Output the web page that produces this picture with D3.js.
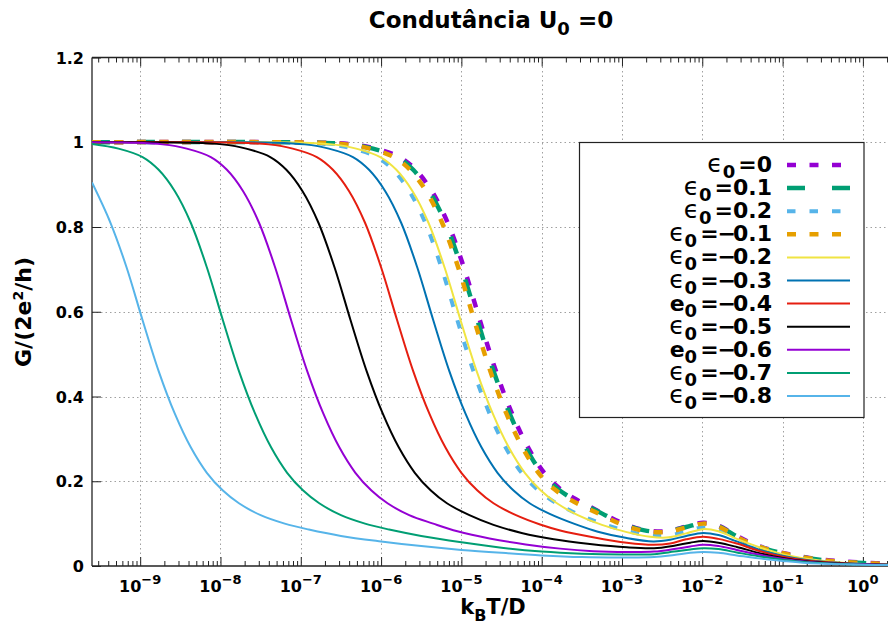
<!DOCTYPE html>
<html>
<head>
<meta charset="utf-8">
<script src="https://cdn.jsdelivr.net/npm/d3@7"></script>
<style>
  html, body { margin: 0; padding: 0; background: #fff; }
  svg { display: block; font-family: "DejaVu Sans", sans-serif; }
</style>
</head>
<body>
<svg id="chart" width="888" height="625"></svg>
<script>
// ---- data: [log10(kBT/D), G/(2e^2/h)] ----
const epsLabels = ["0", "0.1", "0.2", "\u22120.1", "\u22120.2", "\u22120.3", "\u22120.4", "\u22120.5", "\u22120.6", "\u22120.7", "\u22120.8"];
const epsSymbols = ["\u03f5", "\u03f5", "\u03f5", "\u03f5", "\u03f5", "\u03f5", "e", "\u03f5", "e", "\u03f5", "\u03f5"];

const g_eps_0 = [[-9.6,1.0],[-6.77,0.999],[-6.37,0.995],[-6.07,0.985],[-5.77,0.965],[-5.57,0.935],[-5.37,0.885],[-5.17,0.81],[-4.97,0.705],[-4.77,0.58],[-4.57,0.46],[-4.37,0.36],[-4.17,0.28],[-3.97,0.22],[-3.77,0.182],[-3.57,0.157],[-3.4,0.14],[-3.2,0.12],[-2.98,0.1],[-2.72,0.085],[-2.45,0.082],[-2.2,0.093],[-1.99,0.102],[-1.81,0.096],[-1.57,0.071],[-1.4,0.055],[-1.2,0.041],[-1.0,0.031],[-0.7,0.02],[-0.4,0.013],[0,0.008],[0.4,0.005]];
const g_eps_p01 = [[-9.6,1.0],[-6.8,0.999],[-6.4,0.995],[-6.1,0.985],[-5.8,0.965],[-5.6,0.935],[-5.4,0.885],[-5.2,0.81],[-5.0,0.705],[-4.8,0.58],[-4.6,0.46],[-4.4,0.36],[-4.2,0.28],[-4.0,0.22],[-3.8,0.182],[-3.6,0.157],[-3.42,0.14],[-3.21,0.12],[-2.98,0.099],[-2.72,0.084],[-2.45,0.081],[-2.2,0.092],[-1.99,0.101],[-1.81,0.095],[-1.57,0.07],[-1.4,0.054],[-1.2,0.04],[-1.0,0.03],[-0.7,0.019],[-0.4,0.012],[0,0.007],[0.4,0.004]];
const g_eps_p02 = [[-9.6,1.0],[-7.05,0.999],[-6.65,0.995],[-6.35,0.985],[-6.05,0.965],[-5.85,0.935],[-5.65,0.885],[-5.45,0.81],[-5.25,0.705],[-5.05,0.58],[-4.85,0.46],[-4.65,0.36],[-4.45,0.28],[-4.25,0.22],[-4.05,0.18],[-3.85,0.152],[-3.58,0.125],[-3.28,0.102],[-2.97,0.084],[-2.68,0.073],[-2.45,0.071],[-2.2,0.081],[-1.99,0.091],[-1.8,0.086],[-1.57,0.067],[-1.3,0.047],[-1.0,0.029],[-0.7,0.018],[-0.4,0.011],[0,0.005],[0.4,0.003]];
const g_eps_m01 = [[-9.6,1.0],[-6.84,0.999],[-6.44,0.995],[-6.14,0.985],[-5.84,0.965],[-5.64,0.935],[-5.44,0.885],[-5.24,0.81],[-5.04,0.705],[-4.84,0.58],[-4.64,0.46],[-4.44,0.36],[-4.24,0.28],[-4.04,0.22],[-3.84,0.181],[-3.64,0.156],[-3.45,0.138],[-3.23,0.118],[-3.0,0.098],[-2.73,0.083],[-2.45,0.08],[-2.2,0.091],[-1.99,0.1],[-1.81,0.094],[-1.57,0.069],[-1.4,0.053],[-1.2,0.04],[-1.0,0.03],[-0.7,0.019],[-0.4,0.012],[0,0.007],[0.4,0.004]];
const g_eps_m02 = [[-9.6,1.0],[-7.01,0.999],[-6.61,0.995],[-6.31,0.985],[-6.01,0.965],[-5.81,0.935],[-5.61,0.885],[-5.41,0.81],[-5.21,0.705],[-5.01,0.58],[-4.81,0.46],[-4.61,0.36],[-4.41,0.28],[-4.21,0.22],[-4.01,0.178],[-3.81,0.148],[-3.55,0.12],[-3.25,0.097],[-2.94,0.08],[-2.65,0.069],[-2.45,0.067],[-2.2,0.077],[-1.99,0.087],[-1.8,0.082],[-1.57,0.064],[-1.3,0.045],[-1.0,0.028],[-0.7,0.017],[-0.4,0.01],[0,0.005],[0.4,0.003]];
const g_eps_m03 = [[-9.6,1.0],[-7.35,0.999],[-6.95,0.995],[-6.65,0.985],[-6.35,0.965],[-6.15,0.935],[-5.95,0.885],[-5.75,0.81],[-5.55,0.705],[-5.35,0.58],[-5.15,0.46],[-4.95,0.36],[-4.75,0.28],[-4.55,0.22],[-4.35,0.178],[-4.15,0.148],[-3.9,0.123],[-3.6,0.1],[-3.3,0.081],[-2.94,0.066],[-2.61,0.058],[-2.4,0.062],[-2.2,0.071],[-1.99,0.078],[-1.8,0.073],[-1.6,0.06],[-1.28,0.038],[-1.0,0.024],[-0.7,0.014],[-0.4,0.009],[0,0.005],[0.4,0.003]];
const g_eps_m04 = [[-9.6,1.0],[-7.8,0.999],[-7.4,0.995],[-7.1,0.985],[-6.8,0.965],[-6.6,0.935],[-6.4,0.885],[-6.2,0.81],[-6.0,0.705],[-5.8,0.58],[-5.6,0.46],[-5.4,0.36],[-5.2,0.28],[-5.0,0.22],[-4.8,0.178],[-4.6,0.148],[-4.32,0.12],[-4.02,0.098],[-3.77,0.084],[-3.36,0.068],[-2.94,0.055],[-2.61,0.05],[-2.4,0.053],[-2.2,0.063],[-1.99,0.069],[-1.8,0.064],[-1.57,0.053],[-1.3,0.036],[-1.0,0.022],[-0.7,0.013],[-0.4,0.008],[0,0.004],[0.4,0.003]];
const g_eps_m05 = [[-9.6,1.0],[-8.38,0.999],[-7.98,0.995],[-7.68,0.985],[-7.38,0.965],[-7.18,0.935],[-6.98,0.885],[-6.78,0.81],[-6.58,0.705],[-6.38,0.58],[-6.18,0.46],[-5.98,0.36],[-5.78,0.28],[-5.58,0.22],[-5.38,0.178],[-5.18,0.148],[-4.9,0.12],[-4.6,0.097],[-4.25,0.078],[-3.85,0.063],[-3.4,0.052],[-2.94,0.044],[-2.6,0.042],[-2.35,0.048],[-2.15,0.055],[-1.99,0.059],[-1.8,0.055],[-1.57,0.045],[-1.3,0.031],[-1.0,0.019],[-0.7,0.011],[-0.4,0.007],[0,0.004],[0.4,0.003]];
const g_eps_m06 = [[-9.6,1.0],[-9.12,0.999],[-8.72,0.995],[-8.42,0.985],[-8.12,0.965],[-7.92,0.935],[-7.72,0.885],[-7.52,0.81],[-7.32,0.705],[-7.12,0.58],[-6.92,0.46],[-6.72,0.36],[-6.52,0.28],[-6.32,0.22],[-6.12,0.178],[-5.92,0.148],[-5.65,0.12],[-5.35,0.1],[-5.05,0.082],[-4.65,0.065],[-4.2,0.051],[-3.77,0.041],[-3.36,0.035],[-2.94,0.033],[-2.6,0.034],[-2.35,0.04],[-2.15,0.046],[-1.99,0.05],[-1.8,0.047],[-1.57,0.038],[-1.3,0.027],[-1.0,0.017],[-0.7,0.01],[-0.4,0.006],[0,0.004],[0.4,0.002]];
const g_eps_m07 = [[-9.6,0.996],[-9.27,0.985],[-8.97,0.965],[-8.77,0.935],[-8.57,0.885],[-8.37,0.81],[-8.17,0.705],[-7.97,0.58],[-7.77,0.46],[-7.57,0.36],[-7.37,0.28],[-7.17,0.22],[-6.97,0.178],[-6.77,0.148],[-6.5,0.12],[-6.2,0.1],[-5.9,0.086],[-5.5,0.071],[-5.0,0.056],[-4.5,0.043],[-4.0,0.034],[-3.5,0.029],[-3.0,0.027],[-2.6,0.028],[-2.35,0.034],[-2.15,0.039],[-1.99,0.042],[-1.8,0.04],[-1.57,0.032],[-1.3,0.023],[-1.0,0.015],[-0.7,0.009],[-0.4,0.006],[0,0.003],[0.4,0.002]];
const g_eps_m08 = [[-9.6,0.905],[-9.37,0.81],[-9.17,0.705],[-8.97,0.58],[-8.77,0.46],[-8.57,0.36],[-8.37,0.28],[-8.17,0.22],[-7.97,0.178],[-7.77,0.148],[-7.5,0.12],[-7.2,0.1],[-6.9,0.086],[-6.5,0.071],[-6.0,0.058],[-5.5,0.047],[-5.0,0.038],[-4.5,0.031],[-4.0,0.025],[-3.5,0.021],[-3.0,0.02],[-2.6,0.021],[-2.35,0.026],[-2.15,0.031],[-1.99,0.033],[-1.8,0.031],[-1.57,0.025],[-1.3,0.018],[-1.0,0.012],[-0.7,0.007],[-0.4,0.005],[0,0.003],[0.4,0.002]];

const seriesData = [g_eps_0, g_eps_p01, g_eps_p02, g_eps_m01, g_eps_m02, g_eps_m03, g_eps_m04, g_eps_m05, g_eps_m06, g_eps_m07, g_eps_m08];

const xMajorExps = [-9, -8, -7, -6, -5, -4, -3, -2, -1, 0];
const yTicks = [0, 0.2, 0.4, 0.6, 0.8, 1, 1.2];
const yTickLabels = ["0", "0.2", "0.4", "0.6", "0.8", "1", "1.2"];

// ---- styles ----
const colors = ["#9400d3", "#009e73", "#56b4e9", "#e69f00", "#f0e442", "#0072b2", "#e51e10", "#000000", "#9400d3", "#009e73", "#56b4e9"];
const dashes = ["9,13.5", "18,27", "8.5,14", "9,13.5", null, null, null, null, null, null, null];
const widths = [4.5, 4.5, 4, 4.5, 2, 2, 2, 2, 2, 2, 2];

// ---- layout ----
const L = 92, R = 92 + 10 * 80.3, T = 57.5, B = 566;
const svg = d3.select("#chart");
const x = d3.scaleLog().domain([Math.pow(10, -9.6), Math.pow(10, 0.4)]).range([L, R]);
const y = d3.scaleLinear().domain([0, 1.2]).range([B, T]);

const majorVals = xMajorExps.map(e => Math.pow(10, e));
const minorVals = [];
for (let e = -10; e <= 0; e++) for (let m = 2; m <= 9; m++) {
  const v = m * Math.pow(10, e);
  if (v > x.domain()[0] && v < x.domain()[1]) minorVals.push(v);
}

// grid
const grid = svg.append("g").attr("stroke", "#a0a0a0").attr("stroke-width", 1).attr("stroke-dasharray", "1.5,3");
grid.selectAll("line.gx").data(majorVals).enter().append("line")
  .attr("x1", d => Math.round(x(d)) + 0.5).attr("x2", d => Math.round(x(d)) + 0.5)
  .attr("y1", T).attr("y2", B);
grid.selectAll("line.gy").data(yTicks.filter(v => v > 0 && v < 1.2)).enter().append("line")
  .attr("y1", d => Math.round(y(d)) + 0.5).attr("y2", d => Math.round(y(d)) + 0.5)
  .attr("x1", L).attr("x2", 888);

// axes (ticks inward)
const axStyle = g => { g.select(".domain").remove(); g.selectAll("line").attr("stroke", "#222").attr("stroke-width", 1); g.selectAll("text").remove(); };
svg.append("g").attr("transform", `translate(0,${B})`)
  .call(d3.axisBottom(x).tickValues(majorVals).tickSize(-9).tickFormat("")).call(axStyle);
svg.append("g").attr("transform", `translate(0,${B})`)
  .call(d3.axisBottom(x).tickValues(minorVals).tickSize(-5).tickFormat("")).call(axStyle);
svg.append("g").attr("transform", `translate(0,${T})`)
  .call(d3.axisTop(x).tickValues(majorVals).tickSize(-9).tickFormat("")).call(axStyle);
svg.append("g").attr("transform", `translate(0,${T})`)
  .call(d3.axisTop(x).tickValues(minorVals).tickSize(-5).tickFormat("")).call(axStyle);
svg.append("g").attr("transform", `translate(${L},0)`)
  .call(d3.axisLeft(y).tickValues(yTicks).tickSize(-9).tickFormat("")).call(axStyle);

// frame
const frame = svg.append("g").attr("stroke", "#222").attr("stroke-width", 1.3).attr("fill", "none");
frame.append("line").attr("x1", L).attr("x2", 888).attr("y1", T).attr("y2", T);
frame.append("line").attr("x1", L).attr("x2", 888).attr("y1", B).attr("y2", B);
frame.append("line").attr("x1", L).attr("x2", L).attr("y1", T).attr("y2", B);

// tick labels
const xl = svg.append("g").attr("font-weight", "bold").attr("font-size", 16).attr("fill", "#000");
xMajorExps.forEach((e, i) => {
  const t = xl.append("text").attr("x", x(majorVals[i])).attr("y", 592).attr("text-anchor", "middle");
  t.append("tspan").text("10");
  t.append("tspan").attr("dy", -8).attr("font-size", 13).text(e < 0 ? "\u2212" + Math.abs(e) : String(e));
});
const yl = svg.append("g").attr("font-weight", "bold").attr("font-size", 16).attr("fill", "#000");
yTicks.forEach((v, i) => {
  yl.append("text").attr("x", 84).attr("y", y(v) + 6).attr("text-anchor", "end").text(yTickLabels[i]);
});

// axis titles
const xt = svg.append("text").attr("x", 493).attr("y", 614).attr("text-anchor", "middle")
  .attr("font-weight", "bold").attr("font-size", 21);
xt.append("tspan").text("k");
xt.append("tspan").attr("dy", 7).attr("font-size", 16).text("B");
xt.append("tspan").attr("dy", -7).text("T/D");

const yt = svg.append("text").attr("transform", "translate(31,312) rotate(-90)").attr("text-anchor", "middle")
  .attr("font-weight", "bold").attr("font-size", 22);
yt.append("tspan").text("G/(2e");
yt.append("tspan").attr("dy", -8).attr("font-size", 14).text("2");
yt.append("tspan").attr("dy", 8).text("/h)");

// title
const tt = svg.append("text").attr("x", 491).attr("y", 28).attr("text-anchor", "middle")
  .attr("font-weight", "bold").attr("font-size", 23);
tt.append("tspan").text("Condutância U");
tt.append("tspan").attr("dy", 7).attr("font-size", 18).text("0");
tt.append("tspan").attr("dy", -7).text("\u00a0=0");

// curves
svg.append("clipPath").attr("id", "plotclip").append("rect")
  .attr("x", L).attr("y", T).attr("width", R - L).attr("height", B - T);
const line = d3.line().x(d => x(Math.pow(10, d[0]))).y(d => y(d[1])).curve(d3.curveCatmullRom.alpha(0.5));
const curves = svg.append("g").attr("clip-path", "url(#plotclip)").attr("fill", "none");
seriesData.forEach((s, i) => {
  const p = curves.append("path").attr("d", line(s)).attr("stroke", colors[i])
    .attr("stroke-width", widths[i]).attr("stroke-linejoin", "round");
  if (dashes[i]) p.attr("stroke-dasharray", dashes[i]).attr("stroke-linecap", "butt");
});

// legend
const lg = svg.append("g");
lg.append("rect").attr("x", 579.5).attr("y", 142.5).attr("width", 284.5).attr("height", 275)
  .attr("fill", "#fff").attr("stroke", "#222").attr("stroke-width", 1.2);
epsLabels.forEach((lab, i) => {
  const cy = 165 + i * 23.1;
  const t = lg.append("text").attr("x", 772).attr("y", cy + 7).attr("text-anchor", "end")
    .attr("font-size", 22).attr("font-weight", "bold");
  if (epsSymbols[i] === "e") {
    t.append("tspan").text("e");
  } else {
    t.append("tspan").attr("font-weight", "normal").attr("font-size", 25).text(epsSymbols[i]);
  }
  t.append("tspan").attr("dy", 6).attr("font-size", 18).text("0");
  t.append("tspan").attr("dy", -6).attr("dx", 3).text("=");
  if (lab.charAt(0) === "\u2212") {
    t.append("tspan").attr("dx", -1).text("\u2212");
    t.append("tspan").attr("dx", -3).text(lab.slice(1));
  } else {
    t.append("tspan").text(lab);
  }
  const l = lg.append("line").attr("x1", 787).attr("x2", 850).attr("y1", cy).attr("y2", cy)
    .attr("stroke", colors[i]).attr("stroke-width", widths[i]);
  if (dashes[i]) l.attr("stroke-dasharray", dashes[i]);
});
</script>
</body>
</html>
